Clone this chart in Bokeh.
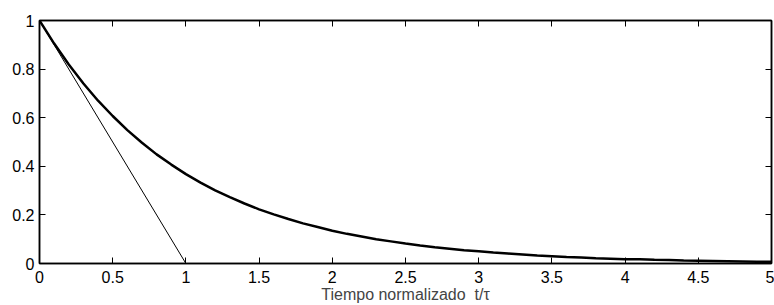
from bokeh.plotting import figure
from bokeh.models import LinearAxis, FixedTicker, Range1d
from bokeh.embed import file_html
from bokeh.resources import INLINE

# Exponential response (step 0.1)
t_norm = [0.0, 0.1, 0.2, 0.3, 0.4, 0.5, 0.6, 0.7, 0.8, 0.9,
          1.0, 1.1, 1.2, 1.3, 1.4, 1.5, 1.6, 1.7, 1.8, 1.9,
          2.0, 2.1, 2.2, 2.3, 2.4, 2.5, 2.6, 2.7, 2.8, 2.9,
          3.0, 3.1, 3.2, 3.3, 3.4, 3.5, 3.6, 3.7, 3.8, 3.9,
          4.0, 4.1, 4.2, 4.3, 4.4, 4.5, 4.6, 4.7, 4.8, 4.9, 5.0]
response = [1.000, 0.905, 0.819, 0.741, 0.670, 0.607, 0.549, 0.497, 0.449, 0.407,
            0.368, 0.333, 0.301, 0.273, 0.247, 0.223, 0.202, 0.183, 0.165, 0.150,
            0.135, 0.122, 0.111, 0.100, 0.091, 0.082, 0.074, 0.067, 0.061, 0.055,
            0.050, 0.045, 0.041, 0.037, 0.033, 0.030, 0.027, 0.025, 0.022, 0.020,
            0.018, 0.017, 0.015, 0.014, 0.012, 0.011, 0.010, 0.009, 0.008, 0.007, 0.007]

# Tangent line at t = 0
tangent_t = [0, 1]
tangent_y = [1, 0]

x_ticks = [0, 0.5, 1, 1.5, 2, 2.5, 3, 3.5, 4, 4.5, 5]
y_ticks = [0, 0.2, 0.4, 0.6, 0.8, 1]
x_label = "Tiempo normalizado\u00a0\u00a0t/\u03c4"

FONT = "Liberation Sans"
FS = "16px"

p = figure(width=774, height=305, output_backend="svg", toolbar_location=None,
           x_range=Range1d(0, 5), y_range=Range1d(0, 1),
           min_border_left=39, min_border_right=3, min_border_top=20, min_border_bottom=42,
           x_axis_location=None, y_axis_location=None)
p.grid.visible = False
p.outline_line_color = "black"
p.outline_line_width = 1.5
p.background_fill_color = "white"
p.border_fill_color = "white"

def style(ax, labels=True):
    ax.major_tick_in = 6
    ax.major_tick_out = 0
    ax.minor_tick_in = 0
    ax.minor_tick_out = 0
    ax.axis_line_color = "black"
    ax.axis_line_width = 1.5
    ax.major_tick_line_color = "black"
    ax.major_tick_line_width = 1
    ax.major_label_text_font = FONT
    ax.major_label_text_font_size = FS
    ax.major_label_text_color = "black" if labels else None

xb = LinearAxis(ticker=FixedTicker(ticks=x_ticks), axis_label=x_label)
style(xb)
xb.major_label_standoff = 7
xb.axis_label_standoff = 0
xb.axis_label_text_font = FONT
xb.axis_label_text_font_size = FS
xb.axis_label_text_font_style = "normal"
xb.major_label_overrides = {0: "0", 1: "1", 2: "2", 3: "3", 4: "4", 5: "5"}
p.add_layout(xb, "below")

xt = LinearAxis(ticker=FixedTicker(ticks=x_ticks))
style(xt, labels=False)
xt.major_label_text_font_size = "0px"
xt.major_label_standoff = 0
p.add_layout(xt, "above")

yl = LinearAxis(ticker=FixedTicker(ticks=y_ticks))
style(yl)
yl.major_label_standoff = 5
yl.major_label_overrides = {0: "0", 1: "1"}
p.add_layout(yl, "left")

yr = LinearAxis(ticker=FixedTicker(ticks=y_ticks))
style(yr, labels=False)
yr.major_label_text_font_size = "0px"
yr.major_label_standoff = 0
p.add_layout(yr, "right")

p.line(tangent_t, tangent_y, line_color="black", line_width=1)
p.line(t_norm, response, line_color="black", line_width=2.5)

open("out.html", "w").write(file_html(p, INLINE))
